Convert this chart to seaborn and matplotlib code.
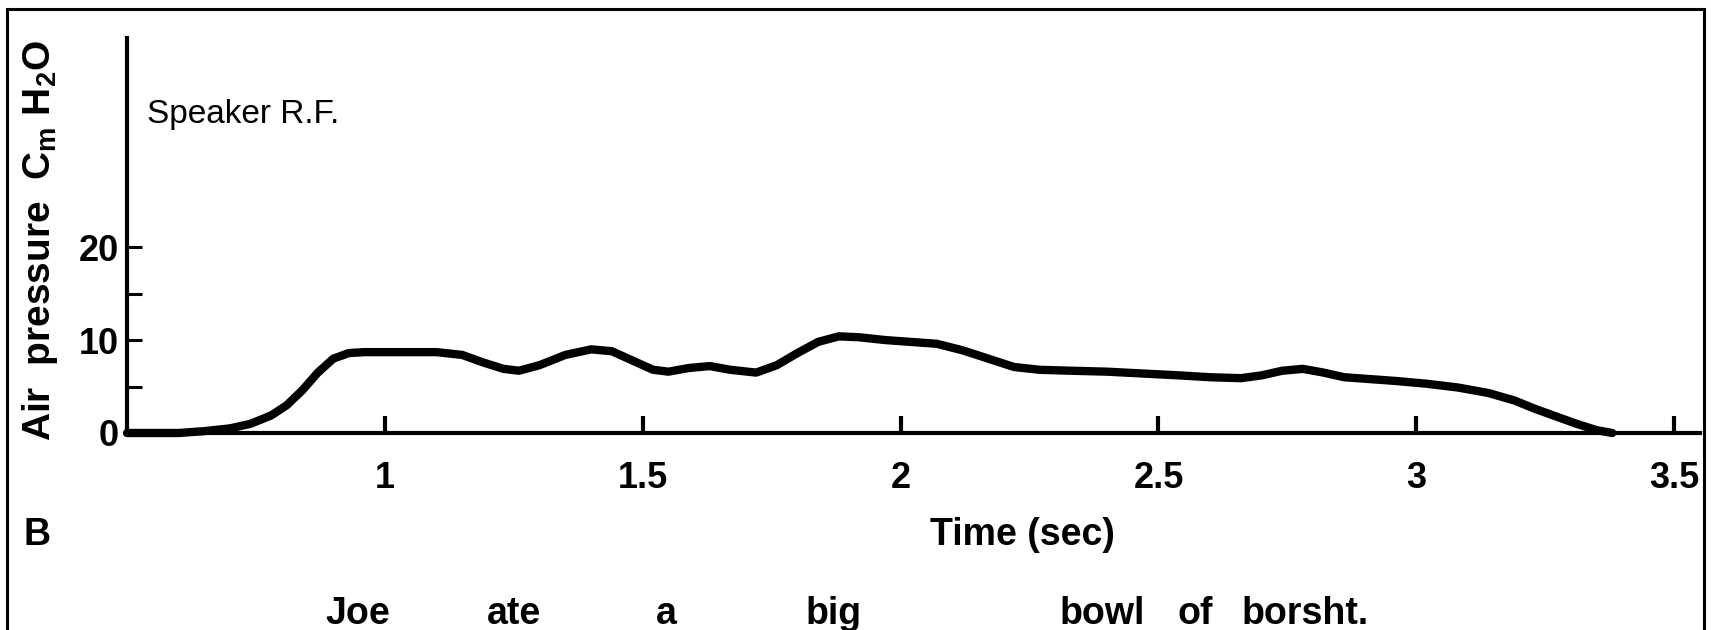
import matplotlib
matplotlib.use("Agg")
import matplotlib.pyplot as plt
import matplotlib.transforms as mtransforms
from matplotlib import font_manager
from matplotlib.patches import Rectangle
from matplotlib.ticker import FixedLocator
import pandas as pd
import seaborn as sns

# Subglottal air pressure trace (time in s, pressure in cm H2O)
time_sec = [0.50, 0.55, 0.60, 0.65, 0.70, 0.74, 0.78, 0.81, 0.84, 0.87,
            0.90, 0.93, 0.96, 1.00, 1.05, 1.10, 1.15, 1.19, 1.23, 1.26,
            1.30, 1.35, 1.40, 1.44, 1.48, 1.52, 1.55, 1.59, 1.63, 1.67,
            1.72, 1.76, 1.80, 1.84, 1.88, 1.92, 1.97, 2.02, 2.07, 2.12,
            2.17, 2.22, 2.27, 2.33, 2.40, 2.47, 2.54, 2.60, 2.66, 2.70,
            2.74, 2.78, 2.82, 2.86, 2.91, 2.96, 3.02, 3.08, 3.14, 3.19,
            3.23, 3.27, 3.31, 3.35, 3.38]
pressure = [0.0, 0.0, 0.0, 0.2, 0.5, 1.0, 1.9, 3.0, 4.6, 6.5,
            8.0, 8.6, 8.7, 8.7, 8.7, 8.7, 8.4, 7.6, 6.9, 6.7,
            7.3, 8.4, 9.0, 8.8, 7.8, 6.8, 6.6, 7.0, 7.2, 6.8,
            6.5, 7.3, 8.6, 9.8, 10.4, 10.3, 10.0, 9.8, 9.6, 8.9,
            8.0, 7.1, 6.8, 6.7, 6.6, 6.4, 6.2, 6.0, 5.9, 6.2,
            6.7, 6.9, 6.5, 6.0, 5.8, 5.6, 5.3, 4.9, 4.3, 3.5,
            2.6, 1.8, 1.0, 0.3, 0.0]

x_ticks = [1, 1.5, 2, 2.5, 3, 3.5]
x_tick_labels = ["1", "1.5", "2", "2.5", "3", "3.5"]
y_ticks = [0, 10, 20]
y_tick_labels = ["0", "10", "20"]
y_minor_ticks = [5, 15]

words = ["Joe", "ate", "a", "big", "bowl", "of", "borsht."]
word_times = [0.948, 1.25, 1.545, 1.87, 2.39, 2.572, 2.785]

sns.set_theme(style="white")
installed = {f.name for f in font_manager.fontManager.ttflist}
narrow = "Liberation Sans Narrow" if "Liberation Sans Narrow" in installed else "Liberation Sans"
plt.rcParams["font.family"] = [narrow, "DejaVu Sans"]
plt.rcParams["mathtext.default"] = "regular"
plt.rcParams["text.color"] = "black"
plt.rcParams["axes.labelcolor"] = "black"

W, H = 1711, 630
fig = plt.figure(figsize=(W / 100, H / 100), dpi=100)
fig.patch.set_facecolor("white")

ax_left, ax_right, ax_bottom, ax_top = 127, 1700, 433, 38
ax = fig.add_axes([ax_left / W, 1 - ax_bottom / H,
                   (ax_right - ax_left) / W, (ax_bottom - ax_top) / H])
ax.set_facecolor("white")

df = pd.DataFrame({"time": time_sec, "pressure": pressure})
sns.lineplot(data=df, x="time", y="pressure", ax=ax, color="black",
             linewidth=6.0, solid_joinstyle="round", solid_capstyle="round")
for ln in ax.lines:
    ln.set_clip_on(False)

ax.set_xlim(0.5, 3.55)
ax.set_ylim(0, 42.5)

for side in ("top", "right"):
    ax.spines[side].set_visible(False)
for side in ("left", "bottom"):
    ax.spines[side].set_linewidth(3.0)
    ax.spines[side].set_color("black")

ax.xaxis.set_major_locator(FixedLocator(x_ticks))
ax.set_xticklabels(x_tick_labels)
ax.yaxis.set_major_locator(FixedLocator(y_ticks))
ax.set_yticklabels(y_tick_labels)
ax.yaxis.set_minor_locator(FixedLocator(y_minor_ticks))

ax.tick_params(axis="x", which="major", bottom=True, top=False, direction="in",
               length=12, width=3.0, pad=20, labelsize=26, colors="black")
ax.tick_params(axis="y", which="both", left=True, right=False, direction="in",
               length=11, width=2.2, pad=6, labelsize=26, colors="black")
for lab in ax.get_xticklabels() + ax.get_yticklabels():
    lab.set_fontweight("bold")

ax.set_xlabel("")
ax.set_ylabel("Air  pressure  C$_{m}$ H$_{2}$O", fontsize=28, fontweight="bold",
              va="center", color="black")
ax.yaxis.set_label_coords((40 - ax_left) / (ax_right - ax_left),
                          (ax_bottom - 240) / (ax_bottom - ax_top))

fig.text(147 / W, 1 - 115 / H, "Speaker R.F.", fontsize=24, ha="left", va="center",
         color="black")
fig.text(1022 / W, 1 - 535 / H, "Time (sec)", fontsize=27, fontweight="bold",
         ha="center", va="center", color="black")
fig.text(24 / W, 1 - 535 / H, "B", fontsize=27, fontweight="bold",
         ha="left", va="center", color="black")

word_tr = mtransforms.blended_transform_factory(ax.transData, fig.transFigure)
for w, t in zip(words, word_times):
    ax.text(t, 1 - 614 / H, w, transform=word_tr, fontsize=27, fontweight="bold",
            ha="center", va="center", clip_on=False, color="black")

fig.add_artist(Rectangle((7 / W, -0.05), (1704 - 7) / W, 1.05 - 9 / H,
                         transform=fig.transFigure, fill=False,
                         linewidth=2.2, edgecolor="black"))

fig.savefig("out.png", dpi=100, facecolor="white")
